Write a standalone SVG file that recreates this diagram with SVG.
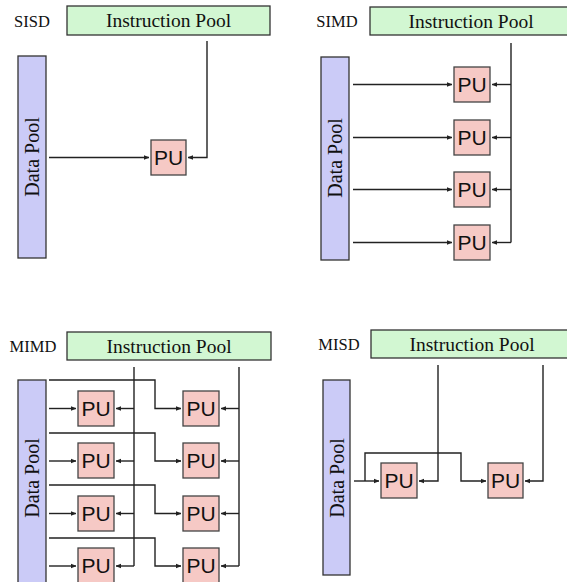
<svg xmlns="http://www.w3.org/2000/svg" width="567" height="582" viewBox="0 0 567 582">
<defs>
<marker id="ah" viewBox="0 0 6 6" refX="5.5" refY="3" markerWidth="5.5" markerHeight="5.5" markerUnits="userSpaceOnUse" orient="auto"><path d="M0,0.5 L6,3 L0,5.5 z" fill="#222"/></marker>
<style>
.ip{fill:#d2f7d2;stroke:#333;stroke-width:1.3}
.dp{fill:#cbcbf7;stroke:#333;stroke-width:1.3}
.pu{fill:#f6c9c5;stroke:#444;stroke-width:1.3}
.t{font-family:"Liberation Serif","DejaVu Serif",serif;font-size:19.5px;fill:#111}
.v{font-family:"Liberation Serif","DejaVu Serif",serif;font-size:20px;fill:#111}
.lb{font-family:"Liberation Serif","DejaVu Serif",serif;font-size:16.5px;fill:#111}
.pt{font-family:"Liberation Sans",Arial,sans-serif;font-size:21px;fill:#111}
.c{fill:none;stroke:#222;stroke-width:1.4}
.a{fill:none;stroke:#222;stroke-width:1.4;marker-end:url(#ah)}
</style>
</defs>
<rect width="567" height="582" fill="#fff"/>

<!-- SISD -->
<g id="sisd-label"><text class="lb" x="32" y="27" text-anchor="middle">SISD</text></g>
<g id="sisd-ip"><rect class="ip" x="67" y="6" width="203" height="29"/><text class="t" x="168.5" y="27" text-anchor="middle">Instruction Pool</text></g>
<g id="sisd-dp"><rect class="dp" x="18" y="56" width="28" height="202"/><text class="v" transform="translate(38.5,157) rotate(-90)" text-anchor="middle">Data Pool</text></g>
<g id="sisd-pu"><rect class="pu" x="151" y="140" width="35" height="35"/><text class="pt" x="168.5" y="165" text-anchor="middle">PU</text></g>

<!-- SIMD -->
<g id="simd-label"><text class="lb" x="337" y="27" text-anchor="middle">SIMD</text></g>
<g id="simd-ip"><rect class="ip" x="370" y="7" width="200" height="28"/><text class="t" x="471" y="28" text-anchor="middle">Instruction Pool</text></g>
<g id="simd-dp"><rect class="dp" x="321" y="57" width="28" height="203"/><text class="v" transform="translate(341.5,158) rotate(-90)" text-anchor="middle">Data Pool</text></g>
<g id="simd-pu1"><rect class="pu" x="454" y="67" width="36" height="35"/><text class="pt" x="472" y="92" text-anchor="middle">PU</text></g>
<g id="simd-pu2"><rect class="pu" x="454" y="120" width="36" height="35"/><text class="pt" x="472" y="145" text-anchor="middle">PU</text></g>
<g id="simd-pu3"><rect class="pu" x="454" y="172" width="36" height="35"/><text class="pt" x="472" y="197" text-anchor="middle">PU</text></g>
<g id="simd-pu4"><rect class="pu" x="454" y="225" width="36" height="35"/><text class="pt" x="472" y="250" text-anchor="middle">PU</text></g>

<!-- MIMD -->
<g id="mimd-label"><text class="lb" x="33" y="352" text-anchor="middle">MIMD</text></g>
<g id="mimd-ip"><rect class="ip" x="67" y="332" width="204" height="28"/><text class="t" x="169" y="353" text-anchor="middle">Instruction Pool</text></g>
<g id="mimd-dp"><rect class="dp" x="18" y="380" width="28" height="210"/><text class="v" transform="translate(38.5,478) rotate(-90)" text-anchor="middle">Data Pool</text></g>
<g id="mimd-pu11"><rect class="pu" x="78" y="391" width="36" height="35"/><text class="pt" x="96" y="416" text-anchor="middle">PU</text></g>
<g id="mimd-pu21"><rect class="pu" x="78" y="443" width="36" height="35"/><text class="pt" x="96" y="468" text-anchor="middle">PU</text></g>
<g id="mimd-pu31"><rect class="pu" x="78" y="496" width="36" height="35"/><text class="pt" x="96" y="521" text-anchor="middle">PU</text></g>
<g id="mimd-pu41"><rect class="pu" x="78" y="548" width="36" height="35"/><text class="pt" x="96" y="573" text-anchor="middle">PU</text></g>
<g id="mimd-pu12"><rect class="pu" x="183" y="391" width="36" height="35"/><text class="pt" x="201" y="416" text-anchor="middle">PU</text></g>
<g id="mimd-pu22"><rect class="pu" x="183" y="443" width="36" height="35"/><text class="pt" x="201" y="468" text-anchor="middle">PU</text></g>
<g id="mimd-pu32"><rect class="pu" x="183" y="496" width="36" height="35"/><text class="pt" x="201" y="521" text-anchor="middle">PU</text></g>
<g id="mimd-pu42"><rect class="pu" x="183" y="548" width="36" height="35"/><text class="pt" x="201" y="573" text-anchor="middle">PU</text></g>

<!-- MISD -->
<g id="misd-label"><text class="lb" x="339" y="350" text-anchor="middle">MISD</text></g>
<g id="misd-ip"><rect class="ip" x="371" y="330" width="200" height="28"/><text class="t" x="472" y="351" text-anchor="middle">Instruction Pool</text></g>
<g id="misd-dp"><rect class="dp" x="323" y="380" width="27" height="195"/><text class="v" transform="translate(343.5,478) rotate(-90)" text-anchor="middle">Data Pool</text></g>
<g id="misd-pu1"><rect class="pu" x="381" y="463" width="36" height="35"/><text class="pt" x="399" y="488" text-anchor="middle">PU</text></g>
<g id="misd-pu2"><rect class="pu" x="488" y="463" width="35" height="35"/><text class="pt" x="505.5" y="488" text-anchor="middle">PU</text></g>

<g id="connectors">
<!-- SISD -->
<path class="a" d="M49,157.5 H149"/>
<path class="a" d="M207,41 V157.5 H188"/>
<!-- SIMD -->
<path class="c" d="M511,43 V242.5"/>
<path class="a" d="M353,84.5 H452"/>
<path class="a" d="M353,137.5 H452"/>
<path class="a" d="M353,189.5 H452"/>
<path class="a" d="M353,242.5 H452"/>
<path class="a" d="M511,84.5 H492"/>
<path class="a" d="M511,137.5 H492"/>
<path class="a" d="M511,189.5 H492"/>
<path class="a" d="M511,242.5 H492"/>
<!-- MIMD -->
<path class="c" d="M134,367 V566"/>
<path class="c" d="M239,367 V566"/>
<path class="a" d="M49,408.5 H76"/>
<path class="a" d="M49,461 H76"/>
<path class="a" d="M49,513.5 H76"/>
<path class="a" d="M49,566 H76"/>
<path class="a" d="M49,380 H155 V408.5 H181"/>
<path class="a" d="M49,433 H155 V461 H181"/>
<path class="a" d="M49,485 H155 V513.5 H181"/>
<path class="a" d="M49,538 H155 V566 H181"/>
<path class="a" d="M134,408.5 H116"/>
<path class="a" d="M134,461 H116"/>
<path class="a" d="M134,513.5 H116"/>
<path class="a" d="M134,566 H116"/>
<path class="a" d="M239,408.5 H221"/>
<path class="a" d="M239,461 H221"/>
<path class="a" d="M239,513.5 H221"/>
<path class="a" d="M239,566 H221"/>
<!-- MISD -->
<path class="a" d="M354,481 H379"/>
<path class="a" d="M365,481 V453 H461 V481 H486"/>
<path class="a" d="M438,365 V481 H419"/>
<path class="a" d="M543,365 V481 H525"/>
</g>
</svg>
